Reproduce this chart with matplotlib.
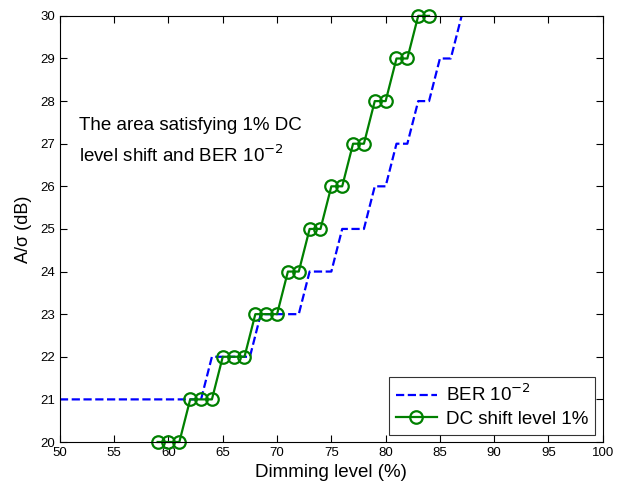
import numpy as np
import matplotlib
matplotlib.use('Agg')
import matplotlib.pyplot as plt

plt.rcParams['font.family'] = ['Liberation Sans', 'DejaVu Sans']

# BER 10^-2 boundary (dashed blue staircase)
ber_x = [50, 63, 64, 67.5, 68.5, 72, 73, 75, 76, 78, 79, 80, 81, 82, 83, 84, 85, 86, 87]
ber_y = [21, 21, 22, 22, 23, 23, 24, 24, 25, 25, 26, 26, 27, 27, 28, 28, 29, 29, 30]

# DC shift level 1% (green with circles)
dc_x = [59, 60, 61, 62, 63, 64, 65, 66, 67, 68, 69, 70, 71, 72, 73, 74,
        75, 76, 77, 78, 79, 80, 81, 82, 83, 84]
dc_y = [20, 20, 20, 21, 21, 21, 22, 22, 22, 23, 23, 23, 24, 24, 25, 25,
        26, 26, 27, 27, 28, 28, 29, 29, 30, 30]

xticks = np.arange(50, 101, 5)
yticks = np.arange(20, 31, 1)

fig = plt.figure(figsize=(6.24, 4.87), dpi=100)
ax = fig.add_axes([0.096, 0.0924, 0.87, 0.875])

ax.plot(ber_x, ber_y, '--', color='#0000ff', lw=1.6, label='BER 10$^{-2}$')
ax.plot(dc_x, dc_y, '-', color='#008000', lw=1.6, marker='o', markersize=9,
        markerfacecolor='none', markeredgewidth=1.6, label='DC shift level 1%', clip_on=False)

ax.set_xlim(50, 100)
ax.set_ylim(20, 30)
ax.set_xticks(xticks)
ax.set_yticks(yticks)
ax.tick_params(direction='in', top=True, right=True, labelsize=9.5, length=5)
ax.set_xlabel('Dimming level (%)', fontsize=13.5, labelpad=4)
ax.set_ylabel('A/σ (dB)', fontsize=13, labelpad=6)

ax.text(51.8, 27.05, 'The area satisfying 1% DC\nlevel shift and BER 10$^{-2}$',
        fontsize=13.5, va='center', ha='left', linespacing=1.6)

leg = ax.legend(loc='lower right', fontsize=13.5, fancybox=False, edgecolor='black',
                handlelength=2.2, handletextpad=0.5, borderaxespad=0.4,
                borderpad=0.35, labelspacing=0.3)
leg.get_frame().set_linewidth(0.8)

plt.savefig('out.png', dpi=100)
